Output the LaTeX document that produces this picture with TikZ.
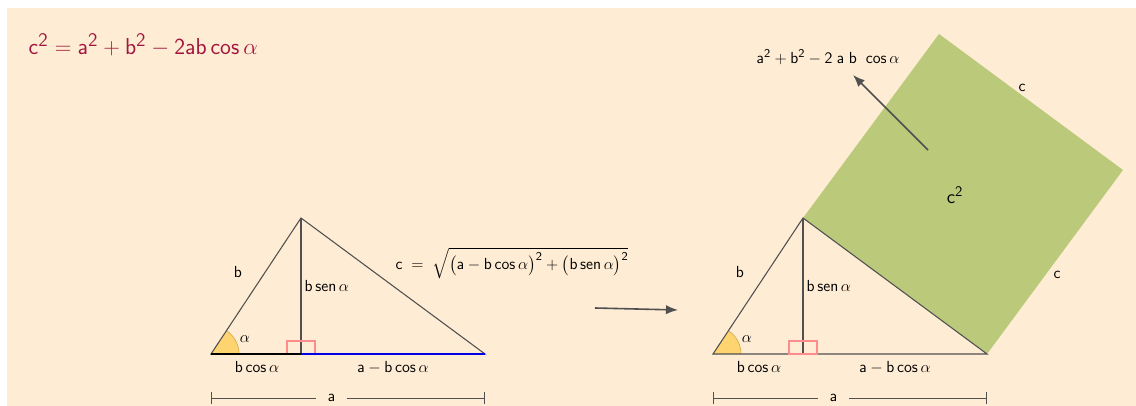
\documentclass[tikz,border=0pt]{standalone}
\usepackage{amsmath,amssymb}
\usetikzlibrary{arrows.meta,angles}
\definecolor{fondo}{RGB}{254,236,212}
\definecolor{verde}{RGB}{186,201,122}
\definecolor{titulo}{RGB}{163,22,62}
\definecolor{linea}{RGB}{80,80,80}
\definecolor{oro}{RGB}{255,205,80}
\newcommand{\mf}[1]{\mathsf{#1}}
\tikzset{
  lado/.style={draw=linea,line width=0.8pt},
  etiq/.style={font=\fontsize{12.5}{14}\selectfont,inner sep=1pt,text=black}
}

\begin{document}
\begin{tikzpicture}[x=0.75pt,y=-0.75pt]
\useasboundingbox (0,0) rectangle (1136,406);
\fill[fondo] (7,8) rectangle (1136,406);
\node[anchor=west,text=titulo,font=\fontsize{19}{22}\selectfont] (formula) at (24,45) {$\mf{c}^\mf{2}=\mf{a}^\mf{2}+\mf{b}^\mf{2}-\mf{2ab}\,\mf{cos}\,\alpha$};

\coordinate (S1) at (939,34);
\coordinate (S2) at (1123,170);
\fill[verde] (803,218) -- (987,354) -- (S2) -- (S1) -- cycle;
\node[etiq] (ladoc1) at (1022,88) {$\mf{c}$};
\node[etiq] (ladoc2) at (1057,275) {$\mf{c}$};
\node[font=\fontsize{15}{17}\selectfont] (cuadrado) at (955,195) {$\mf{c}^\mf{2}$};

\foreach \d/\n in {0/i,502/d}{
  \coordinate (A\n) at (211+\d,354);
  \coordinate (C\n) at (301+\d,218);
  \coordinate (B\n) at (485+\d,354);
  \coordinate (H\n) at (301+\d,354);
  \pic[fill=oro,fill opacity=0.75,draw=oro!80!black,angle radius=21pt] {angle=B\n--A\n--C\n};
  \draw[lado] (A\n) -- (C\n) -- (B\n) -- cycle;
  \draw[lado] (C\n) -- (H\n);
  \draw[red!45,line width=0.8pt] (287+\d,341) rectangle (315+\d,354);
  \node[etiq] (b\n) at (238+\d,272) {$\mf{b}$};
  \node[etiq,anchor=west] (alt\n) at (303+\d,286) {$\mf{b}\,\mf{sen}\,\alpha$};
  \node[etiq] (alfa\n) at (245+\d,339) {$\alpha$};
  \node[etiq] (bcos\n) at (257+\d,367) {$\mf{b}\,\mf{cos}\,\alpha$};
  \node[etiq] (resto\n) at (393+\d,368) {$\mf{a}-\mf{b}\,\mf{cos}\,\alpha$};
  \coordinate (M\n) at (211+\d,398);
  \coordinate (N\n) at (485+\d,398);
  \draw[linea,line width=0.6pt,{Bar[width=9pt]}-{Bar[width=9pt]}] (M\n) -- node[pos=0.44,fill=fondo,etiq,inner xsep=9pt] (cota\n) {$\mf{a}$} (N\n);
}
\draw[black,line width=2pt] (Ai) -- (Hi);
\draw[blue!90!black,line width=2pt] (Hi) -- (Bi);

\node[etiq,anchor=west] (hipot) at (394,263) {$\mf{c}\;=\;\sqrt{\bigl(\mf{a}-\mf{b}\,\mf{cos}\,\alpha\bigr)^\mf{2}+\bigl(\mf{b}\,\mf{sen}\,\alpha\bigr)^\mf{2}}$};

\coordinate (F1) at (595,308);
\coordinate (F2) at (678,310);
\draw[linea,line width=1.2pt,-{Latex[length=9pt,width=7pt]}] (F1) -- (F2);

\node[etiq] (suma) at (828,57) {$\mf{a}^\mf{2}+\mf{b}^\mf{2}-\mf{2}\;\mf{a}\;\mf{b}\;\;\mf{cos}\,\alpha$};
\coordinate (P1) at (928,150);
\coordinate (P2) at (853,75);
\draw[linea,line width=1.2pt,-{Latex[length=9pt,width=7pt]}] (P1) -- (P2);
\end{tikzpicture}
\end{document}
